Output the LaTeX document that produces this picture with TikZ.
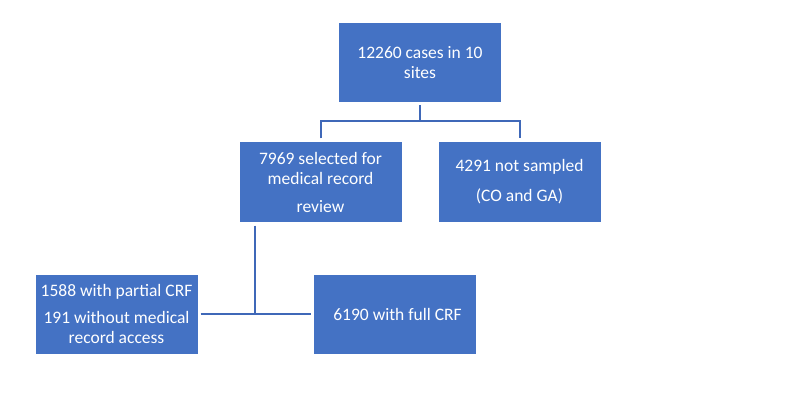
\documentclass[tikz,border=0pt]{standalone}
\usepackage{fontspec}
\usepackage{tikz}
\usetikzlibrary{positioning}
\setmainfont{Carlito}
\definecolor{boxblue}{HTML}{4472C4}
\definecolor{lineblue}{HTML}{3F68B8}

\begin{document}
\begin{tikzpicture}[
    x=1pt, y=-1pt,
    node distance=40pt and 37pt,
    box/.style={fill=boxblue, text=white, align=center, minimum width=162pt, minimum height=79pt, inner sep=0pt, outer sep=0pt, font=\fontsize{17.5pt}{20pt}\selectfont},
    link/.style={draw=lineblue, line width=2pt}
]
\useasboundingbox (0,0) rectangle (797,414);
\node[box] (cases) at (420,63) {12260 cases in 10\\sites};
\node[box, below=of cases, xshift=-99.5pt] (selected) {7969 selected for\\medical record\\[8pt]review};
\node[box, right=of selected] (notsampled) {4291 not sampled\\[10pt](CO and GA)};
\node[box, below=53pt of selected, xshift=-204pt] (partial) {1588 with partial CRF\\[7pt]191 without medical\\record access};
\node[box, right=116pt of partial] (full) {\hspace*{6pt}6190 with full CRF};
\coordinate (split) at ([yshift=-19pt]cases.south);
\coordinate (join) at ([xshift=15pt]selected.south west |- partial.east);
\draw[link] ([yshift=-3pt]cases.south) -- (split);
\draw[link] ([yshift=4pt]selected.north) |- (split) -| ([yshift=4pt]notsampled.north);
\draw[link] ([xshift=15pt,yshift=-4pt]selected.south west) -- (join);
\draw[link] ([xshift=3pt]partial.east) -- ([xshift=-3pt]full.west);
\end{tikzpicture}
\end{document}
